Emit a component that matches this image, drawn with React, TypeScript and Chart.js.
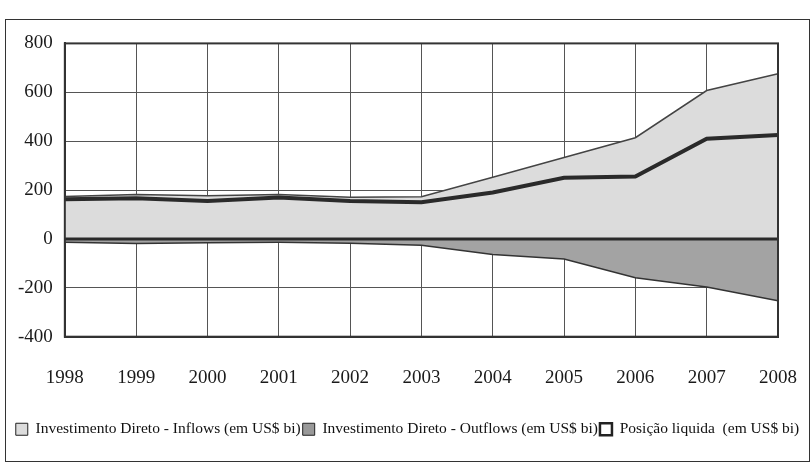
import React, { useEffect, useRef } from "react";
import { Chart, registerables } from "chart.js";

Chart.register(...registerables);

const years = ["1998", "1999", "2000", "2001", "2002", "2003", "2004", "2005", "2006", "2007", "2008"];
const inflows = [174, 182, 177, 182, 171, 173, 252, 333, 414, 607, 676];
const outflows = [-14, -19, -16, -14, -18, -26, -64, -82, -159, -197, -253];
const netPosition = [162, 166, 155, 169, 155, 150, 190, 250, 255, 410, 425];

const seriesNames = [
  "Investimento Direto - Inflows (em US$ bi)",
  "Investimento Direto - Outflows (em US$ bi)",
  "Posição liquida  (em US$ bi)",
];

const FONT = "'Liberation Serif', 'DejaVu Serif', serif";

const framePlugin = {
  id: "frameLines",
  afterDatasetsDraw(chart: any) {
    const { ctx, chartArea, scales } = chart;
    ctx.save();
    const y0 = scales.y.getPixelForValue(0);
    ctx.strokeStyle = "#2a2a2a";
    ctx.lineWidth = 3;
    ctx.beginPath();
    ctx.moveTo(chartArea.left, y0);
    ctx.lineTo(chartArea.right, y0);
    ctx.stroke();
    ctx.lineWidth = 2;
    ctx.strokeStyle = "#333";
    ctx.strokeRect(chartArea.left, chartArea.top, chartArea.right - chartArea.left, chartArea.bottom - chartArea.top);
    ctx.restore();
  },
};

export default function App() {
  const ref = useRef<HTMLCanvasElement>(null);
  useEffect(() => {
    if (!ref.current) return;
    const chart = new Chart(ref.current, {
      type: "line",
      data: {
        labels: years,
        datasets: [
          {
            label: seriesNames[0],
            data: inflows,
            fill: "origin",
            backgroundColor: "#dcdcdc",
            borderColor: "#444",
            borderWidth: 1.5,
            pointRadius: 0,
            tension: 0,
            order: 3,
          },
          {
            label: seriesNames[1],
            data: outflows,
            fill: "origin",
            backgroundColor: "#a3a3a3",
            borderColor: "#333",
            borderWidth: 1.5,
            pointRadius: 0,
            tension: 0,
            order: 1,
          },
          {
            label: seriesNames[2],
            data: netPosition,
            fill: "origin",
            backgroundColor: "#dcdcdc",
            borderColor: "#2a2a2a",
            borderWidth: 4,
            pointRadius: 0,
            tension: 0,
            order: 2,
          },
        ],
      },
      options: {
        animation: false,
        responsive: true,
        maintainAspectRatio: false,
        layout: { padding: { left: 0, right: 0, top: 12, bottom: 14 } },
        plugins: {
          tooltip: { enabled: false },
          legend: {
            position: "bottom",
            labels: {
              font: { family: FONT, size: 15.5 },
              color: "#111",
              boxWidth: 12,
              boxHeight: 12,
              padding: 2,
              sort: (a: any, b: any) => a.datasetIndex - b.datasetIndex,
              generateLabels: (c: any) => {
                const items = Chart.defaults.plugins.legend.labels.generateLabels(c);
                const fills = ["#dcdcdc", "#999999", "#ffffff"];
                const widths = [1, 1, 2.5];
                items.forEach((it: any) => {
                  const i = it.datasetIndex;
                  it.fillStyle = fills[i];
                  it.strokeStyle = "#222";
                  it.lineWidth = widths[i];
                });
                return items;
              },
            },
          },
        },
        scales: {
          x: {
            offset: false,
            grid: { color: "#555", lineWidth: 1, drawTicks: false },
            border: { color: "#333", width: 2 },
            ticks: { font: { family: FONT, size: 19 }, color: "#1a1a1a", padding: 30, maxRotation: 0 },
            afterFit: (scale: any) => {
              scale.paddingRight = 31;
              scale.paddingLeft = 19;
            },
          },
          y: {
            min: -400,
            max: 800,
            grid: { color: "#555", lineWidth: 1, drawTicks: false },
            border: { color: "#333", width: 2 },
            ticks: { stepSize: 200, font: { family: FONT, size: 19 }, color: "#1a1a1a", padding: 12 },
          },
        },
      },
      plugins: [framePlugin],
    });
    return () => chart.destroy();
  }, []);

  return (
    <div
      style={{
        position: "absolute",
        left: 5,
        top: 19,
        width: 803,
        height: 441,
        border: "1px solid #333",
        background: "#fff",
      }}
    >
      <canvas ref={ref} />
    </div>
  );
}
